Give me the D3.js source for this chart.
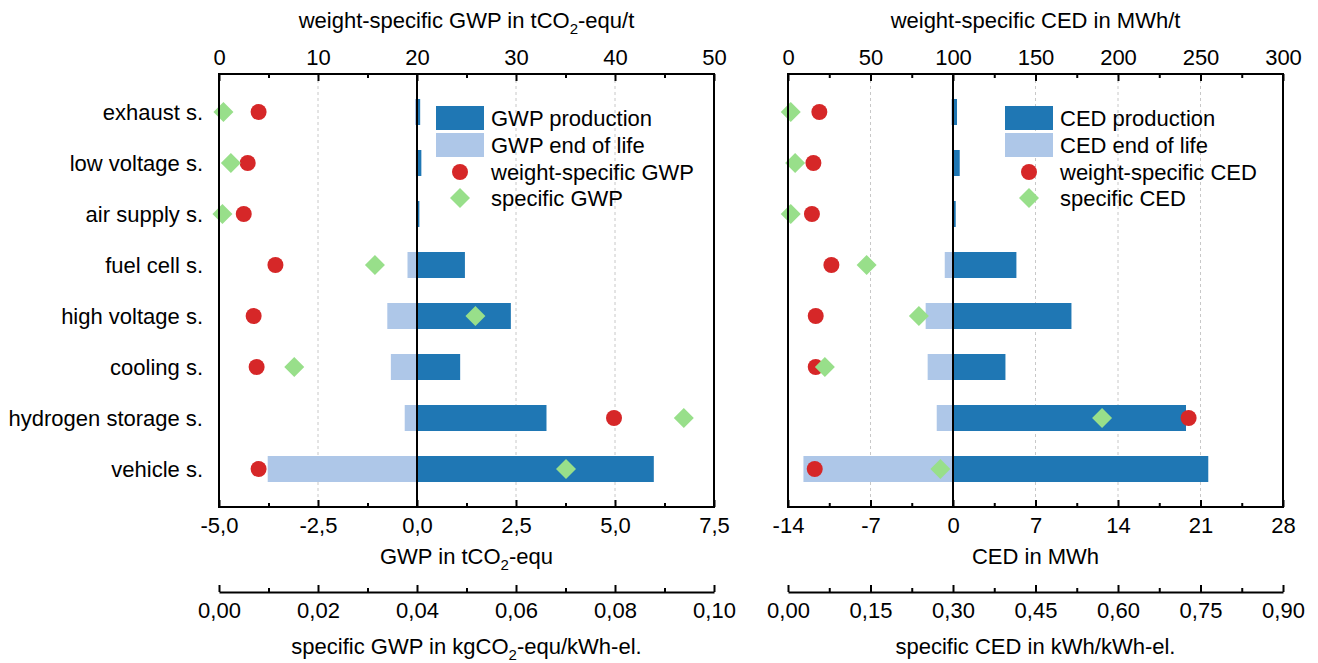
<!DOCTYPE html>
<html>
<head>
<meta charset="utf-8" />
<title>GWP and CED per subsystem</title>
<script src="https://d3js.org/d3.v7.min.js"></script>
<style>
  body { margin: 0; background: #fff; }
  svg { font-family: "Liberation Sans", Arial, sans-serif; font-size: 22px; }
  .axis text { font-size: 22px; fill: #000; }
  .axis line, .axis path { stroke: #000; stroke-width: 2; }
  .grid { stroke: #c8c8c8; stroke-width: 1; stroke-dasharray: 3,3; }
</style>
</head>
<body>
<svg id="chart" width="1318" height="663"></svg>
<script>

// subsystems, top to bottom
const categories = ["exhaust s.", "low voltage s.", "air supply s.", "fuel cell s.",
    "high voltage s.", "cooling s.", "hydrogen storage s.", "vehicle s."];

// GWP panel
const gwpProduction = [0.08, 0.11, 0.06, 1.21, 2.37, 1.09, 3.27, 5.98];      // tCO2-equ
const gwpEndOfLife = [-0.05, -0.03, -0.02, -0.24, -0.75, -0.66, -0.31, -3.77]; // tCO2-equ
const gwpWeightSpecific = [4.0, 2.9, 2.5, 5.7, 3.5, 3.8, 39.9, 4.0];          // tCO2-equ/t
const gwpSpecific = [0.0009, 0.0024, 0.0007, 0.0315, 0.0518, 0.0152, 0.0939, 0.0701]; // kgCO2-equ/kWh-el.

// CED panel
const cedProduction = [0.34, 0.57, 0.23, 5.38, 10.05, 4.45, 19.77, 21.66];     // MWh
const cedEndOfLife = [-0.14, -0.05, -0.05, -0.70, -2.32, -2.15, -1.38, -12.69]; // MWh
const cedWeightSpecific = [19.0, 15.4, 14.5, 26.3, 16.8, 16.8, 242.8, 16.2];   // MWh/t
const cedSpecific = [0.005, 0.013, 0.005, 0.143, 0.238, 0.067, 0.571, 0.277];  // kWh/kWh-el.

// tick labels
const gwpTicks = [-5, -2.5, 0, 2.5, 5, 7.5];
const gwpWeightTicks = [0, 10, 20, 30, 40, 50];
const gwpSpecificTicks = [0, 0.02, 0.04, 0.06, 0.08, 0.10];
const cedTicks = [-14, -7, 0, 7, 14, 21, 28];
const cedWeightTicks = [0, 50, 100, 150, 200, 250, 300];
const cedSpecificTicks = [0, 0.15, 0.30, 0.45, 0.60, 0.75, 0.90];

const colors = { production: "#1f77b4", endOfLife: "#aec7e8", weight: "#d62728", specific: "#98df8a" };

// comma decimals, plain hyphen as minus
const de = d3.formatLocale({ decimal: ",", thousands: ".", grouping: [3], currency: ["", " €"], minus: "-" });

const svg = d3.select("#chart");
svg.append("rect").attr("width", 1318).attr("height", 663).attr("fill", "#fff");

const boxTop = 74, boxBottom = 507, specAxisY = 592;

let y = d3.scalePoint().domain(categories).range([boxTop, boxBottom]).padding(0.745);
const barH = 26;

// text with a subscript "2"
function subText(g, x, yy, before, after, anchor) {
    let t = g.append("text").attr("x", x).attr("y", yy).attr("text-anchor", anchor || "middle");
    t.append("tspan").text(before);
    if (after !== undefined) {
        t.append("tspan").attr("dy", 6).style("font-size", "15px").text("2");
        t.append("tspan").attr("dy", -6).text(after);
    }
    return t;
}

function minorOf(ticks) {
    let m = [];
    for (let i = 0; i < ticks.length - 1; i++) m.push((ticks[i] + ticks[i + 1]) / 2);
    return m;
}

function drawPanel(p) {
    let g = svg.append("g");
    let x = d3.scaleLinear().domain(d3.extent(p.ticks)).range([p.left, p.right]);
    let xTop = d3.scaleLinear().domain(d3.extent(p.topTicks)).range([p.left, p.right]);
    let xSpec = d3.scaleLinear().domain(d3.extent(p.specTicks)).range([p.left, p.right]);

    // dashed grid at top-axis ticks
    g.selectAll(".grid")
        .data(p.topTicks.filter(t => xTop(t) > p.left + 2 && xTop(t) < p.right - 2 && Math.abs(xTop(t) - x(0)) > 2))
        .enter().append("line")
        .attr("class", "grid")
        .attr("x1", d => xTop(d)).attr("x2", d => xTop(d))
        .attr("y1", boxTop).attr("y2", boxBottom);

    // bars
    g.selectAll(".eol").data(categories).enter().append("rect")
        .attr("x", (d, i) => x(p.endOfLife[i]))
        .attr("width", (d, i) => x(0) - x(p.endOfLife[i]))
        .attr("y", d => y(d) - barH / 2).attr("height", barH)
        .attr("fill", colors.endOfLife);
    g.selectAll(".prod").data(categories).enter().append("rect")
        .attr("x", x(0))
        .attr("width", (d, i) => x(p.production[i]) - x(0))
        .attr("y", d => y(d) - barH / 2).attr("height", barH)
        .attr("fill", colors.production);

    // markers
    g.selectAll(".wdot").data(categories).enter().append("circle")
        .attr("cx", (d, i) => xTop(p.weight[i])).attr("cy", d => y(d))
        .attr("r", 8).attr("fill", colors.weight);
    g.selectAll(".sdia").data(categories).enter().append("path")
        .attr("d", d3.symbol(d3.symbolSquare, 200))
        .attr("transform", (d, i) => "translate(" + xSpec(p.specific[i]) + "," + y(d) + ") rotate(45)")
        .attr("fill", colors.specific);

    // zero line
    g.append("line").attr("x1", x(0)).attr("x2", x(0)).attr("y1", boxTop).attr("y2", boxBottom)
        .attr("stroke", "#000").attr("stroke-width", 2);

    // top axis (weight-specific)
    g.append("g").attr("class", "axis").attr("transform", "translate(0," + boxTop + ")")
        .call(d3.axisTop(xTop).tickValues(p.topTicks).tickSize(-7).tickPadding(9).tickFormat(de.format("d")))
        .call(a => a.select(".domain").remove());
    g.append("g").attr("class", "axis").attr("transform", "translate(0," + boxTop + ")")
        .call(d3.axisTop(xTop).tickValues(minorOf(p.topTicks)).tickSize(-4).tickFormat(""))
        .call(a => a.select(".domain").remove());

    // bottom axis (absolute)
    g.append("g").attr("class", "axis").attr("transform", "translate(0," + boxBottom + ")")
        .call(d3.axisBottom(x).tickValues(p.ticks).tickSize(-7).tickPadding(10).tickFormat(p.fmt))
        .call(a => a.select(".domain").remove());
    g.append("g").attr("class", "axis").attr("transform", "translate(0," + boxBottom + ")")
        .call(d3.axisBottom(x).tickValues(minorOf(p.ticks)).tickSize(-4).tickFormat(""))
        .call(a => a.select(".domain").remove());

    // frame
    g.append("rect").attr("x", p.left).attr("y", boxTop)
        .attr("width", p.right - p.left).attr("height", boxBottom - boxTop)
        .attr("fill", "none").attr("stroke", "#000").attr("stroke-width", 2);

    // second bottom axis (specific)
    g.append("g").attr("class", "axis").attr("transform", "translate(0," + specAxisY + ")")
        .call(d3.axisBottom(xSpec).tickValues(p.specTicks).tickSize(-7).tickSizeOuter(0).tickPadding(10).tickFormat(de.format(".2f")));
    g.append("g").attr("class", "axis").attr("transform", "translate(0," + specAxisY + ")")
        .call(d3.axisBottom(xSpec).tickValues(minorOf(p.specTicks)).tickSize(-4).tickFormat(""))
        .call(a => a.select(".domain").remove());

    // titles
    let cx = (p.left + p.right) / 2;
    subText(g, cx, 28, p.topTitle[0], p.topTitle[1]);
    subText(g, cx, 564, p.bottomTitle[0], p.bottomTitle[1]);
    subText(g, cx, 654, p.specTitle[0], p.specTitle[1]);

    // legend
    let lx = p.left + 217;
    let rows = [106, 133];
    g.append("rect").attr("x", lx).attr("y", rows[0]).attr("width", 48).attr("height", 24).attr("fill", colors.production);
    g.append("rect").attr("x", lx).attr("y", rows[1]).attr("width", 48).attr("height", 24).attr("fill", colors.endOfLife);
    g.append("circle").attr("cx", lx + 24).attr("cy", 172).attr("r", 8).attr("fill", colors.weight);
    g.append("path").attr("d", d3.symbol(d3.symbolSquare, 200))
        .attr("transform", "translate(" + (lx + 24) + ",198) rotate(45)").attr("fill", colors.specific);
    p.legend.forEach((txt, i) => {
        g.append("text").attr("x", lx + 55).attr("y", [118, 145, 172, 198][i]).attr("dy", "0.35em").text(txt);
    });
}

drawPanel({
    left: 219, right: 714,
    ticks: gwpTicks, topTicks: gwpWeightTicks, specTicks: gwpSpecificTicks,
    production: gwpProduction, endOfLife: gwpEndOfLife, weight: gwpWeightSpecific, specific: gwpSpecific,
    fmt: de.format(".1f"),
    topTitle: ["weight-specific GWP in tCO", "-equ/t"],
    bottomTitle: ["GWP in tCO", "-equ"],
    specTitle: ["specific GWP in kgCO", "-equ/kWh-el."],
    legend: ["GWP production", "GWP end of life", "weight-specific GWP", "specific GWP"]
});

drawPanel({
    left: 788, right: 1283,
    ticks: cedTicks, topTicks: cedWeightTicks, specTicks: cedSpecificTicks,
    production: cedProduction, endOfLife: cedEndOfLife, weight: cedWeightSpecific, specific: cedSpecific,
    fmt: de.format("d"),
    topTitle: ["weight-specific CED in MWh/t"],
    bottomTitle: ["CED in MWh"],
    specTitle: ["specific CED in kWh/kWh-el."],
    legend: ["CED production", "CED end of life", "weight-specific CED", "specific CED"]
});

// category labels (left panel only)
svg.append("g").selectAll("text").data(categories).enter().append("text")
    .attr("x", 203).attr("y", d => y(d)).attr("dy", "0.35em")
    .attr("text-anchor", "end").text(d => d);

</script>
</body>
</html>
